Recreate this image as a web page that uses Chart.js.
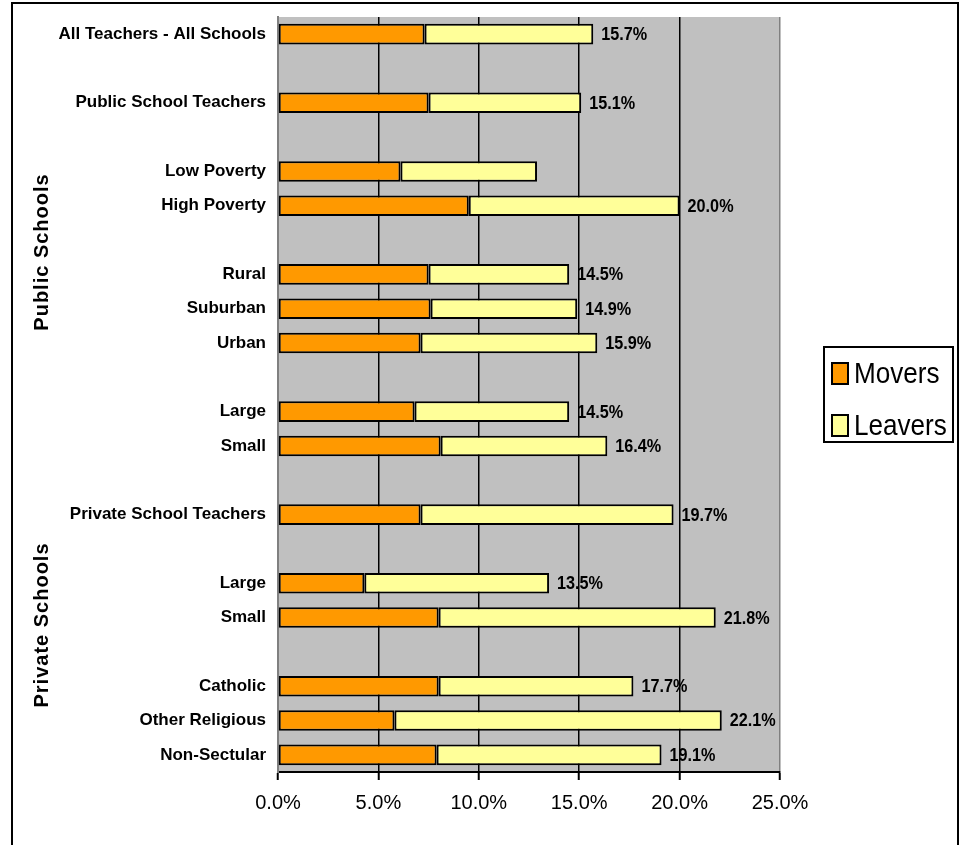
<!DOCTYPE html>
<html>
<head>
<meta charset="utf-8">
<script src="https://cdn.jsdelivr.net/npm/chart.js@4/dist/chart.umd.min.js"></script>
<style>
  body { margin: 0; background: #fff; }
  #wrap { position: relative; width: 964px; height: 845px; }
</style>
</head>
<body>
<div id="wrap"><canvas id="teacher-chart"></canvas></div>
<script>
// rows of the chart, '' = empty spacer row
var categories = ["All Teachers - All Schools", "", "Public School Teachers", "",
  "Low Poverty", "High Poverty", "", "Rural", "Suburban", "Urban", "",
  "Large", "Small", "", "Private School Teachers", "", "Large", "Small", "",
  "Catholic", "Other Religious", "Non-Sectular"];

var movers = [7.3, null, 7.5, null, 6.1, 9.5, null, 7.5, 7.6, 7.1, null,
  6.8, 8.1, null, 7.1, null, 4.3, 8.0, null, 8.0, 5.8, 7.9];

var leavers = [8.4, null, 7.6, null, 6.8, 10.5, null, 7.0, 7.3, 8.8, null,
  7.7, 8.3, null, 12.6, null, 9.2, 13.8, null, 9.7, 16.3, 11.2];

var totalLabels = ["15.7%", "", "15.1%", "", "", "20.0%", "", "14.5%", "14.9%", "15.9%", "",
  "14.5%", "16.4%", "", "19.7%", "", "13.5%", "21.8%", "", "17.7%", "22.1%", "19.1%"];

var xTicks = [0, 5, 10, 15, 20, 25];

var sans = "'Liberation Sans', Arial, sans-serif";

// draws text squeezed horizontally
function narrowText(ctx, text, x, y, sx) {
  ctx.save();
  ctx.translate(x, y);
  ctx.scale(sx, 1);
  ctx.fillText(text, 0, 0);
  ctx.restore();
}

var extras = {
  id: 'extras',
  beforeDraw: function(chart) {
    var ctx = chart.ctx, a = chart.chartArea;
    ctx.save();
    // outer frame
    ctx.strokeStyle = '#000';
    ctx.lineWidth = 2;
    ctx.beginPath();
    ctx.moveTo(12, 845); ctx.lineTo(12, 3); ctx.lineTo(958, 3); ctx.lineTo(958, 845);
    ctx.stroke();
    // plot background
    ctx.fillStyle = '#C0C0C0';
    ctx.fillRect(a.left, a.top, a.right - a.left, a.bottom - a.top);
    ctx.restore();
  },
  afterDatasetsDraw: function(chart) {
    var ctx = chart.ctx;
    ctx.save();
    // total labels
    ctx.font = 'bold 18px ' + sans;
    ctx.fillStyle = '#000';
    ctx.textBaseline = 'middle';
    ctx.textAlign = 'left';
    chart.getDatasetMeta(1).data.forEach(function(bar, i) {
      if (totalLabels[i]) narrowText(ctx, totalLabels[i], bar.x + 8, bar.y + 1, 0.9);
    });
    // group labels
    ctx.font = 'bold 20px ' + sans;
    ctx.letterSpacing = '1px';
    ctx.textAlign = 'center';
    var groups = [["Public Schools", 252], ["Private Schools", 625]];
    groups.forEach(function(g) {
      ctx.save();
      ctx.translate(42, g[1]);
      ctx.rotate(-Math.PI / 2);
      ctx.fillText(g[0], 0, 0);
      ctx.restore();
    });
    ctx.letterSpacing = '0px';
    // legend
    ctx.strokeStyle = '#000';
    ctx.lineWidth = 2;
    ctx.strokeRect(824, 347, 129, 95);
    ctx.font = '30px ' + sans;
    chart.data.datasets.forEach(function(ds, i) {
      var y = 374 + i * 52;
      ctx.fillStyle = ds.backgroundColor;
      ctx.fillRect(832, y - 11, 16, 21);
      ctx.lineWidth = 2;
      ctx.strokeRect(832, y - 11, 16, 21);
      ctx.fillStyle = '#000';
      ctx.textAlign = 'left';
      narrowText(ctx, ds.label, 854, y + 1, 0.87);
    });
    ctx.restore();
  }
};

var chartEl = document.getElementById('teacher-chart');

var teacherChart = new Chart(chartEl, {
  type: 'bar',
  data: {
    labels: categories,
    datasets: [
      { label: "Movers", backgroundColor: "#FF9900", borderColor: "#000", borderWidth: 2,
        borderSkipped: false, data: movers },
      { label: "Leavers", backgroundColor: "#FFFF99", borderColor: "#000", borderWidth: 2,
        borderSkipped: false, data: leavers }
    ]
  },
  plugins: [extras],
  options: {
    indexAxis: 'y',
    responsive: true, maintainAspectRatio: false, animation: false,
    barPercentage: 0.6, categoryPercentage: 1,
    layout: { padding: { left: 0, top: 17, right: 184, bottom: 0 } },
    plugins: { legend: { display: false }, tooltip: { enabled: false } },
    scales: {
      x: {
        stacked: true, min: 0, max: 25,
        afterBuildTicks: function(s) { s.ticks = xTicks.map(function(v) { return { value: v }; }); },
        afterFit: function(s) { s.height = 73; s.paddingLeft = 0; s.paddingRight = 0; },
        grid: {
          color: function(c) { return (c.index === 0 || c.index === 5) ? '#808080' : '#000'; },
          lineWidth: 1.5, tickLength: 8, tickColor: '#000', tickWidth: 2
        },
        border: { color: '#000', width: 2 },
        ticks: {
          color: '#000', padding: 11,
          font: { family: sans, size: 20 },
          callback: function(v) { return Number(v).toFixed(1) + '%'; }
        }
      },
      y: {
        stacked: true,
        afterFit: function(s) { s.width = 278; s.paddingTop = 0; s.paddingBottom = 0; },
        grid: { display: false, drawTicks: false },
        border: { color: '#808080', width: 2 },
        ticks: {
          color: '#000', padding: 12, autoSkip: false,
          font: { family: sans, size: 17, weight: 'bold' }
        }
      }
    }
  }
});
</script>
</body>
</html>
